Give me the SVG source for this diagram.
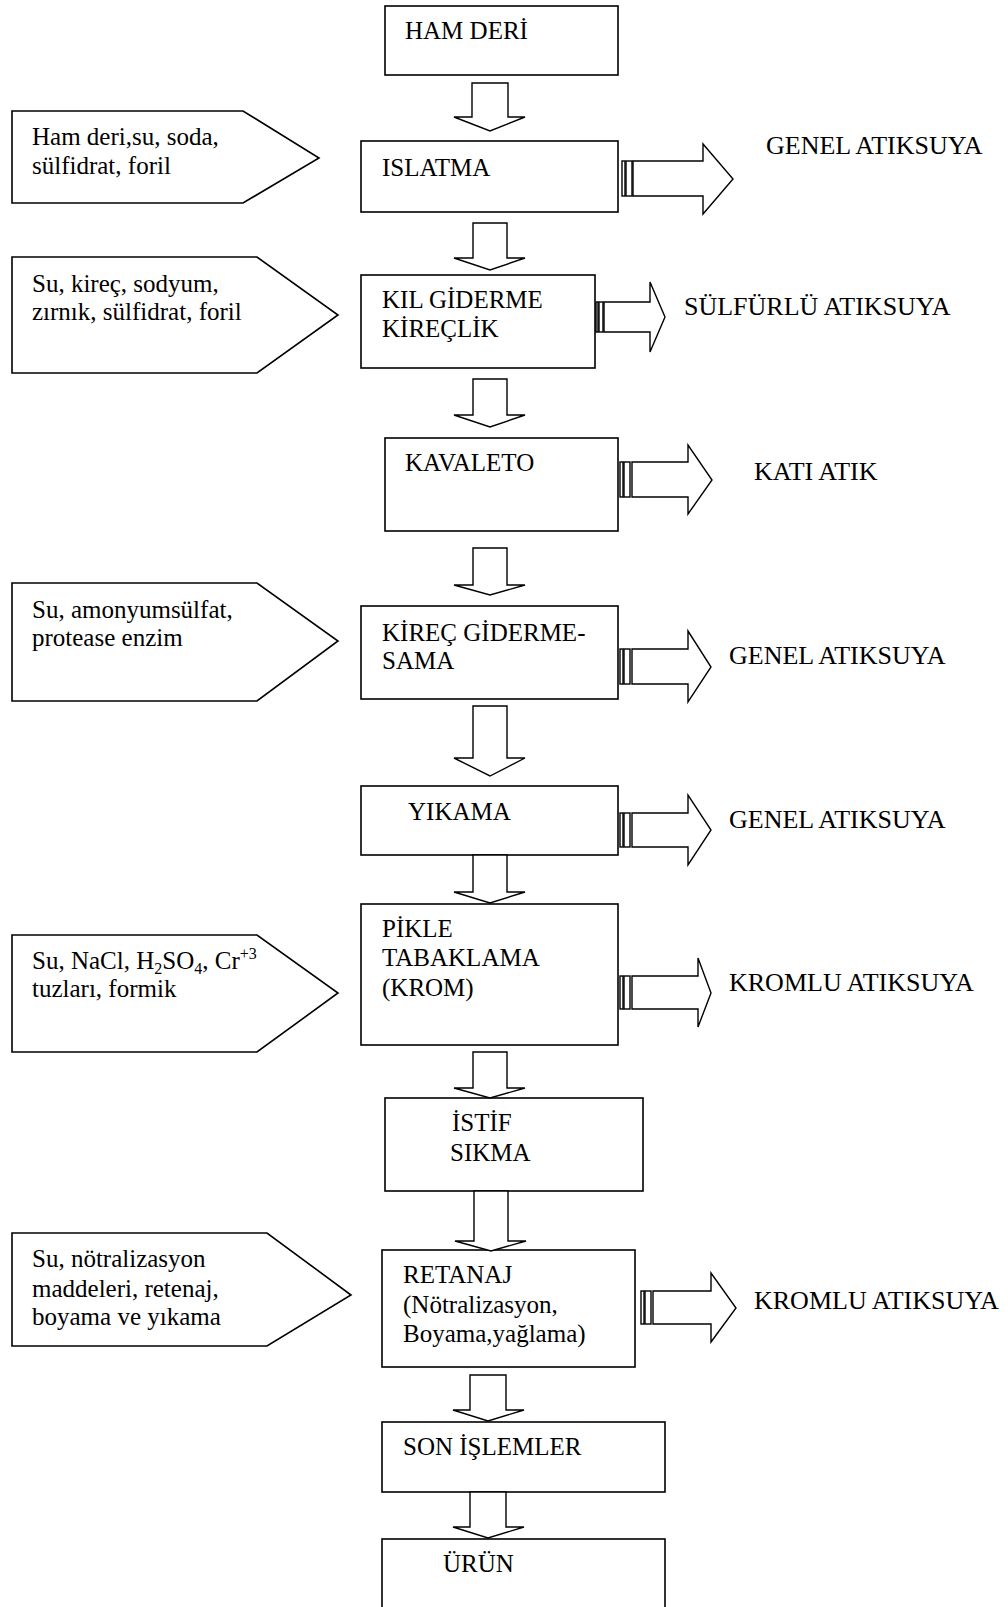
<svg xmlns="http://www.w3.org/2000/svg" width="1008" height="1607" viewBox="0 0 1008 1607">
<style>
  .bx{fill:#fff;stroke:#000;stroke-width:1.6}
  .ar{fill:#fff;stroke:#000;stroke-width:1.4;stroke-linejoin:miter}
  text{font-family:"Liberation Serif","Times New Roman",serif;font-size:25px;fill:#000}
  .o{font-size:26px}
  .s{font-size:16px}
</style>
<rect x="0" y="0" width="1008" height="1607" fill="#fff"/>

<g id="inputs">
  <g id="in1">
    <polygon class="bx" points="12,111 243,111 319,158 243,203 12,203"/>
    <text x="32" y="145">Ham deri,su, soda,</text>
    <text x="32" y="174">sülfidrat, foril</text>
  </g>
  <g id="in2">
    <polygon class="bx" points="12,257 257,257 338,315 257,373 12,373"/>
    <text x="32" y="292">Su, kireç, sodyum,</text>
    <text x="32" y="320">zırnık, sülfidrat, foril</text>
  </g>
  <g id="in3">
    <polygon class="bx" points="12,583 257,583 338,641 257,701 12,701"/>
    <text x="32" y="618">Su, amonyumsülfat,</text>
    <text x="32" y="646">protease enzim</text>
  </g>
  <g id="in4">
    <polygon class="bx" points="12,935 257,935 338,993 257,1052 12,1052"/>
    <text x="32" y="969">Su, NaCl, H<tspan class="s" dy="5">2</tspan><tspan dy="-5">SO</tspan><tspan class="s" dy="5">4</tspan><tspan dy="-5">, Cr</tspan><tspan class="s" dy="-10">+3</tspan></text>
    <text x="32" y="997">tuzları, formik</text>
  </g>
  <g id="in5">
    <polygon class="bx" points="12,1233 267,1233 351,1295 267,1346 12,1346"/>
    <text x="32" y="1267">Su, nötralizasyon</text>
    <text x="32" y="1297">maddeleri, retenaj,</text>
    <text x="32" y="1325">boyama ve yıkama</text>
  </g>
</g>

<g id="steps">
  <g id="ham-deri"><rect class="bx" x="385" y="6" width="233" height="69"/><text x="405" y="39">HAM DERİ</text></g>
  <g id="islatma"><rect class="bx" x="361" y="141" width="257" height="71"/><text x="382" y="176">ISLATMA</text></g>
  <g id="kil-giderme"><rect class="bx" x="361" y="275" width="234" height="93"/><text x="382" y="308">KIL GİDERME</text><text x="382" y="337">KİREÇLİK</text></g>
  <g id="kavaleto"><rect class="bx" x="385" y="438" width="233" height="93"/><text x="405" y="471">KAVALETO</text></g>
  <g id="kirec-giderme"><rect class="bx" x="361" y="606" width="257" height="93"/><text x="382" y="641">KİREÇ GİDERME-</text><text x="382" y="669">SAMA</text></g>
  <g id="yikama"><rect class="bx" x="361" y="786" width="257" height="69"/><text x="408" y="820">YIKAMA</text></g>
  <g id="pikle"><rect class="bx" x="361" y="904" width="257" height="141"/><text x="382" y="937">PİKLE</text><text x="382" y="966">TABAKLAMA</text><text x="382" y="996">(KROM)</text></g>
  <g id="istif"><rect class="bx" x="385" y="1098" width="258" height="93"/><text x="452" y="1131">İSTİF</text><text x="450" y="1161">SIKMA</text></g>
  <g id="retanaj"><rect class="bx" x="382" y="1250" width="253" height="117"/><text x="403" y="1283">RETANAJ</text><text x="403" y="1313">(Nötralizasyon,</text><text x="403" y="1342">Boyama,yağlama)</text></g>
  <g id="son-islemler"><rect class="bx" x="382" y="1422" width="283" height="70"/><text x="403" y="1455">SON İŞLEMLER</text></g>
  <g id="urun"><rect class="bx" x="382" y="1539" width="283" height="80"/><text x="443" y="1572">ÜRÜN</text></g>
</g>

<g id="outputs">
  <text class="o" x="766" y="154">GENEL ATIKSUYA</text>
  <text class="o" x="684" y="315">SÜLFÜRLÜ ATIKSUYA</text>
  <text class="o" x="754" y="480">KATI ATIK</text>
  <text class="o" x="729" y="664">GENEL ATIKSUYA</text>
  <text class="o" x="729" y="828">GENEL ATIKSUYA</text>
  <text class="o" x="729" y="991">KROMLU ATIKSUYA</text>
  <text class="o" x="754" y="1309">KROMLU ATIKSUYA</text>
</g>

<g id="connectors">
  <polygon class="ar" points="472,83 508,83 508,117 525,117 490,131 454,117 472,117"/>
  <polygon class="ar" points="473,223 507,223 507,258 525,258 490,270 454,258 473,258"/>
  <polygon class="ar" points="473,379 507,379 507,415 525,415 490,427 454,415 473,415"/>
  <polygon class="ar" points="473,548 507,548 507,585 525,585 490,595 454,585 473,585"/>
  <polygon class="ar" points="473,706 507,706 507,758 525,758 490,776 454,758 473,758"/>
  <polygon class="ar" points="473,855 507,855 507,892 525,892 490,903 454,892 473,892"/>
  <polygon class="ar" points="473,1052 507,1052 507,1088 525,1088 490,1098 454,1088 473,1088"/>
  <polygon class="ar" points="474,1191 508,1191 508,1241 526,1241 491,1251 455,1241 474,1241"/>
  <polygon class="ar" points="470,1375 506,1375 506,1410 524,1410 488,1421 453,1410 470,1410"/>
  <polygon class="ar" points="470,1492 506,1492 506,1527 524,1527 488,1538 453,1527 470,1527"/>

  <g id="out1">
    <rect class="ar" x="622" y="161" width="3" height="35"/><rect class="ar" x="626" y="161" width="6" height="35"/>
    <polygon class="ar" points="633,161 703,161 703,144 733,179 703,214 703,196 633,196"/>
  </g>
  <g id="out2">
    <rect class="ar" x="596" y="302" width="2" height="30"/><rect class="ar" x="599" y="302" width="4" height="30"/>
    <polygon class="ar" points="604,302 650,302 650,282 665,317 650,352 650,332 604,332"/>
  </g>
  <g id="out3">
    <rect class="ar" x="620" y="462" width="3" height="35"/><rect class="ar" x="624" y="462" width="6" height="35"/>
    <polygon class="ar" points="632,462 688,462 688,445 712,480 688,514 688,497 632,497"/>
  </g>
  <g id="out4">
    <rect class="ar" x="620" y="649" width="3" height="35"/><rect class="ar" x="624" y="649" width="6" height="35"/>
    <polygon class="ar" points="632,649 688,649 688,631 711,667 688,702 688,684 632,684"/>
  </g>
  <g id="out5">
    <rect class="ar" x="620" y="813" width="3" height="34"/><rect class="ar" x="624" y="813" width="6" height="34"/>
    <polygon class="ar" points="632,813 688,813 688,795 711,830 688,865 688,847 632,847"/>
  </g>
  <g id="out6">
    <rect class="ar" x="620" y="976" width="3" height="33"/><rect class="ar" x="624" y="976" width="6" height="33"/>
    <polygon class="ar" points="632,976 698,976 698,958 711,993 698,1027 698,1009 632,1009"/>
  </g>
  <g id="out7">
    <rect class="ar" x="641" y="1291" width="3" height="33"/><rect class="ar" x="645" y="1291" width="6" height="33"/>
    <polygon class="ar" points="653,1291 711,1291 711,1273 736,1308 711,1342 711,1324 653,1324"/>
  </g>
</g>
</svg>
